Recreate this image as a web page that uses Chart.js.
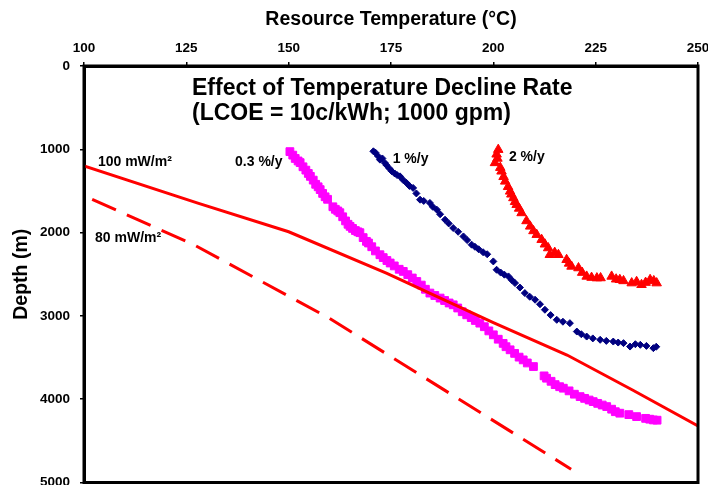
<!DOCTYPE html>
<html>
<head>
<meta charset="utf-8">
<script src="https://cdn.jsdelivr.net/npm/chart.js@4"></script>
<style>
  html, body { margin: 0; padding: 0; background: #fff; overflow: hidden; }
  #wrap { width: 708px; height: 489px; }
</style>
</head>
<body>
<div id="wrap"><canvas id="depth-chart"></canvas></div>
<script>
// heat flow curves (temperature in C, depth in m)
const grad100Temp = [100, 128, 150, 174, 200, 218, 234, 250];
const grad100Depth = [1200, 1650, 1990, 2490, 3080, 3470, 3890, 4320];
const grad80Temp = [102, 127, 160, 219];
const grad80Depth = [1600, 2150, 3030, 4840];

// 0.3 %/y decline
const slowTemp = [150.3, 151.0, 151.6, 152.3, 152.8, 153.5, 154.2, 154.8, 155.3, 156.0, 156.6, 157.2, 157.7, 158.3, 158.9, 159.5,
  160.8, 161.4, 162.0, 162.5, 163.2, 163.9, 164.5, 165.0, 165.6, 166.3, 166.9, 167.4, 168.2, 169.0, 169.5, 170.3, 171.2,
  172.3, 173.1, 174.0, 174.8, 175.8, 177.0, 178.0, 179.1, 180.2, 181.3, 182.4, 183.4, 184.5, 185.7, 187.0, 188.1, 189.2,
  190.2, 191.3, 192.4, 193.5, 194.6, 195.6, 196.7, 197.8, 198.9, 200.0, 201.2, 202.4, 203.1, 204.1, 205.2, 206.3, 207.3,
  208.3, 209.8, 212.4, 213.0, 214.1, 215.1, 216.2, 217.1, 218.5, 219.8, 221.2, 222.3, 223.4, 224.4, 225.5, 226.6, 227.7,
  228.9, 229.8, 230.9, 233.1, 235.0, 237.2, 238.2, 239.1, 240.0];
const slowDepth = [1028, 1070, 1110, 1140, 1160, 1210, 1250, 1290, 1325, 1370, 1420, 1450, 1484, 1530, 1570, 1600,
  1690, 1720, 1740, 1761, 1810, 1860, 1900, 1925, 1950, 1975, 1990, 2001, 2060, 2105, 2125, 2170, 2220,
  2266, 2300, 2335, 2365, 2400, 2440, 2466, 2505, 2545, 2587, 2630, 2680, 2726, 2755, 2786, 2815, 2845,
  2867, 2905, 2950, 2987, 3020, 3055, 3087, 3130, 3180, 3227, 3280, 3330, 3370, 3407, 3450, 3495, 3528,
  3565, 3608, 3720, 3748, 3785, 3825, 3850, 3868, 3900, 3940, 3969, 3990, 4010, 4029, 4050, 4070, 4089,
  4120, 4150, 4168, 4185, 4209, 4230, 4240, 4249, 4252];

// 1 %/y decline
const midTemp = [170.7, 171.2, 171.8, 172.3, 172.9, 173.5, 173.9, 174.6, 175.2, 175.9, 176.5, 177.2, 177.9, 178.8, 179.5,
  180.4, 181.2, 182.1, 183.0, 184.5, 185.2, 186.2, 187.0, 188.2, 189.1, 190.2, 191.4, 192.7, 193.6, 194.7, 195.5, 196.4,
  197.5, 198.5, 200.0, 200.8, 201.8, 202.7, 203.7, 204.5, 205.3, 206.5, 207.7, 208.9, 210.2, 211.4, 212.6, 214.0, 215.5,
  217.0, 218.7, 220.4, 221.5, 222.8, 224.3, 226.1, 227.6, 229.3, 230.5, 231.8, 233.4, 234.7, 235.9, 237.4, 239.1, 239.8];
const midDepth = [1024, 1040, 1080, 1124, 1110, 1163, 1190, 1230, 1264, 1290, 1310, 1325, 1365, 1404, 1440,
  1464, 1530, 1605, 1620, 1644, 1690, 1725, 1780, 1845, 1890, 1945, 1990, 2046, 2090, 2145, 2170, 2200,
  2236, 2260, 2346, 2446, 2480, 2505, 2526, 2570, 2606, 2660, 2726, 2770, 2806, 2860, 2926, 2990, 3047,
  3070, 3087, 3188, 3220, 3248, 3270, 3287, 3300, 3308, 3320, 3327, 3368, 3340, 3347, 3360, 3387, 3370];

// 2 %/y decline
const fastTemp = [201.2, 200.8, 200.4, 201.0, 201.7, 202.0, 202.5, 202.9, 203.6, 204.1, 204.4, 204.9, 205.3, 205.7, 206.3,
  206.9, 208.1, 209.0, 209.8, 210.6, 211.8, 212.6, 213.4, 213.8, 215.0, 215.9, 217.9, 218.5, 219.1, 220.8, 221.7, 222.8,
  224.0, 225.3, 226.2, 228.9, 230.0, 230.9, 231.8, 233.8, 235.0, 236.2, 237.2, 238.3, 239.2, 239.9];
const fastDepth = [1004, 1060, 1163, 1110, 1220, 1264, 1330, 1385, 1450, 1505, 1540, 1584, 1630, 1665, 1710,
  1764, 1860, 1925, 1980, 2025, 2085, 2140, 2185, 2266, 2240, 2266, 2326, 2370, 2406, 2425, 2480, 2526,
  2540, 2546, 2545, 2526, 2560, 2566, 2580, 2606, 2590, 2626, 2600, 2566, 2580, 2606];

const toPoints = (xs, ys) => xs.map((x, i) => ({ x: x, y: ys[i] }));

// text placed in data coordinates
const curveLabels = [
  { text: '100 mW/m²', x: 103.4, y: 1156 },
  { text: '80 mW/m²', x: 102.7, y: 2061 },
  { text: '0.3 %/y', x: 136.9, y: 1156 },
  { text: '1 %/y', x: 175.4, y: 1115 },
  { text: '2 %/y', x: 203.8, y: 1091 }
];

const FONT = 'Liberation Sans, Arial, sans-serif';

// keep tick label overflow from shrinking the plot box
function noOverflow(scale) {
  scale.paddingLeft = 0;
  scale.paddingRight = 0;
  scale.paddingTop = 0;
  scale.paddingBottom = 0;
}

const framePlugin = {
  id: 'frame',
  afterDraw(chart) {
    const { ctx, chartArea: a, scales } = chart;
    ctx.save();
    ctx.strokeStyle = '#000';
    ctx.lineWidth = 3;
    ctx.strokeRect(a.left, a.top, a.right - a.left, a.bottom - a.top);

    ctx.fillStyle = '#000';
    ctx.textBaseline = 'middle';
    ctx.textAlign = 'left';
    ctx.font = 'bold 23px ' + FONT;
    ctx.fillText('Effect of Temperature Decline Rate', 192, 89);
    ctx.fillText('(LCOE = 10c/kWh; 1000 gpm)', 192, 114);

    ctx.font = 'bold 14px ' + FONT;
    curveLabels.forEach(l => {
      ctx.fillText(l.text, scales.x.getPixelForValue(l.x), scales.y.getPixelForValue(l.y));
    });
    ctx.restore();
  }
};

const ctx = document.getElementById('depth-chart').getContext('2d');
new Chart(ctx, {
  type: 'scatter',
  data: {
    datasets: [
      {
        label: '100 mW/m2',
        data: toPoints(grad100Temp, grad100Depth),
        showLine: true,
        borderColor: '#ff0000',
        borderWidth: 3,
        pointRadius: 0,
        order: 1
      },
      {
        label: '80 mW/m2',
        data: toPoints(grad80Temp, grad80Depth),
        showLine: true,
        borderColor: '#ff0000',
        borderWidth: 3,
        borderDash: [26, 12],
        pointRadius: 0,
        order: 1
      },
      {
        label: '0.3 %/y',
        data: toPoints(slowTemp, slowDepth),
        pointStyle: 'rect',
        pointRadius: 5.5,
        backgroundColor: '#ff00ff',
        borderColor: '#ff00ff',
        borderWidth: 1,
        order: 2
      },
      {
        label: '1 %/y',
        data: toPoints(midTemp, midDepth),
        pointStyle: 'rectRot',
        pointRadius: 3.5,
        backgroundColor: '#000080',
        borderColor: '#000080',
        borderWidth: 1,
        order: 2
      },
      {
        label: '2 %/y',
        data: toPoints(fastTemp, fastDepth),
        pointStyle: 'triangle',
        pointRadius: 5.5,
        backgroundColor: '#ff0000',
        borderColor: '#ff0000',
        borderWidth: 1,
        order: 2
      }
    ]
  },
  options: {
    responsive: true,
    maintainAspectRatio: false,
    animation: false,
    layout: { padding: { left: 0, right: 10, top: 0, bottom: 0 } },
    plugins: {
      legend: { display: false },
      tooltip: { enabled: false }
    },
    scales: {
      x: {
        type: 'linear',
        position: 'top',
        min: 100,
        max: 250,
        ticks: {
          stepSize: 25,
          color: '#000',
          padding: 6,
          callback: value => String(value),
          font: { family: FONT, size: 13.5, weight: 'bold' }
        },
        grid: { drawOnChartArea: false, drawTicks: true, tickLength: 4, color: '#000', lineWidth: 1.5 },
        border: { display: true, color: '#000', width: 3 },
        title: {
          display: true,
          text: 'Resource Temperature (°C)',
          color: '#000',
          padding: { top: 8, bottom: 0 },
          font: { family: FONT, size: 19.5, weight: 'bold' }
        },
        afterFit(scale) {
          scale.height = 66;
          noOverflow(scale);
        }
      },
      y: {
        type: 'linear',
        reverse: true,
        min: 0,
        max: 5000,
        ticks: {
          stepSize: 1000,
          color: '#000',
          padding: 10,
          callback: value => String(value),
          font: { family: FONT, size: 13.5, weight: 'bold' }
        },
        grid: { drawOnChartArea: false, drawTicks: true, tickLength: 4, color: '#000', lineWidth: 1.5 },
        border: { display: true, color: '#000', width: 3 },
        title: {
          display: true,
          text: 'Depth (m)',
          color: '#000',
          padding: { top: 10, bottom: 0 },
          font: { family: FONT, size: 19.5, weight: 'bold' }
        },
        afterFit(scale) {
          scale.width = 84;
          noOverflow(scale);
        }
      }
    }
  },
  plugins: [framePlugin]
});
</script>
</body>
</html>
